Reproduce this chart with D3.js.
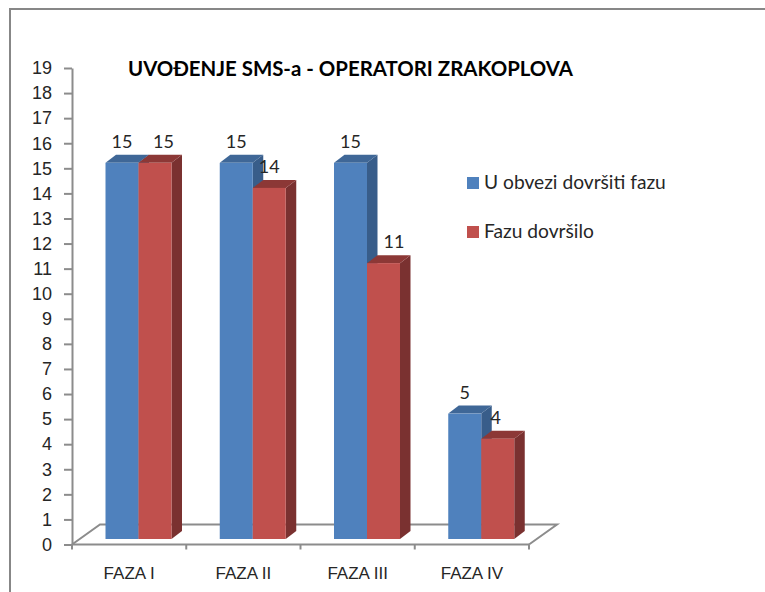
<!DOCTYPE html>
<html>
<head>
<meta charset="utf-8">
<script src="https://cdn.jsdelivr.net/npm/d3@7"></script>
<style>
html, body { margin: 0; padding: 0; background: #fff; }
svg { display: block; font-family: Lato, "Open Sans", sans-serif; }
.tick text { fill: #262626; }
</style>
</head>
<body>
<div id="chart"></div>
<script>
// Values.
const categories = ["FAZA I", "FAZA II", "FAZA III", "FAZA IV"];
const seriesNames = ["U obvezi dovršiti fazu", "Fazu dovršilo"];
const required = [15, 15, 15, 5];
const completed = [15, 14, 11, 4];
const yTicks = d3.range(0, 20);

const width = 765;
const height = 592;
const axisColor = "#8c8c8c";
const colors = [
    { front: "#4F81BD", side: "#385D8A", top: "#3F6797" },
    { front: "#C0504D", side: "#7A3130", top: "#8C3836" }
];

// 3D look: the bars sit a bit in front of the axis plane.
const depthX = 10.5;
const depthY = 8;
const floorX = 28;
const floorY = 20;
const barLift = 5.5;
const barShift = 9.5;

const svg = d3.select("#chart").append("svg")
    .attr("width", width)
    .attr("height", height);

// outer frame, cropped at the right and bottom
svg.append("path")
    .attr("d", d3.line()([[10, height], [10, 9], [width, 9]]))
    .attr("fill", "none")
    .attr("stroke", "#878787")
    .attr("stroke-width", 2);

const y = d3.scaleLinear().domain([0, 19]).range([544.5, 68]);
const x = d3.scaleBand().domain(categories).range([72, 529]);
const inner = d3.scaleBand().domain(seriesNames).range([24 + barShift, 90 + barShift]);

const left = x.range()[0];
const right = x.range()[1];
const base = y(0);

// floor
svg.append("path")
    .attr("d", d3.line()([
        [left, base],
        [left + floorX, base - floorY],
        [right + floorX, base - floorY],
        [right, base]
    ]))
    .attr("fill", "none")
    .attr("stroke", axisColor)
    .attr("stroke-width", 2);

const yAxis = d3.axisLeft(y).tickValues(yTicks).tickSize(8).tickPadding(12).tickSizeOuter(0);
const gy = svg.append("g")
    .attr("transform", `translate(${left},0)`)
    .call(yAxis);
gy.selectAll("text").attr("font-size", 18);

const xAxis = d3.axisBottom(x).tickSize(0).tickPadding(0);
const gx = svg.append("g")
    .attr("transform", `translate(0,${base})`)
    .call(xAxis);
gx.selectAll("text")
    .attr("font-size", 17)
    .attr("y", 34)
    .attr("dy", 0)
    .attr("fill", "#404040");

// category separators hang under the front edge
gx.selectAll(".sep")
    .data(d3.range(categories.length + 1))
    .join("line")
    .attr("class", "sep")
    .attr("x1", i => left + i * x.step())
    .attr("x2", i => left + i * x.step())
    .attr("y1", 0)
    .attr("y2", 5)
    .attr("stroke", axisColor)
    .attr("stroke-width", 2);

svg.selectAll(".domain, .tick line")
    .attr("stroke", axisColor)
    .attr("stroke-width", 2);
gx.select(".domain").attr("d", `M${left},0H${right}`);

const bars = svg.append("g");
categories.forEach((cat, i) => {
    [required[i], completed[i]].forEach((value, s) => {
        const x0 = x(cat) + inner(seriesNames[s]);
        const x1 = x0 + inner.bandwidth();
        const yTop = y(value) - barLift;
        const yBottom = base - barLift;
        const g = bars.append("g");

        g.append("path")
            .attr("d", d3.line()([[x1, yTop], [x1 + depthX, yTop - depthY], [x1 + depthX, yBottom - depthY], [x1, yBottom]]) + "Z")
            .attr("fill", colors[s].side);
        g.append("path")
            .attr("d", d3.line()([[x0, yTop], [x0 + depthX, yTop - depthY], [x1 + depthX, yTop - depthY], [x1, yTop]]) + "Z")
            .attr("fill", colors[s].top);
        g.append("rect")
            .attr("x", x0)
            .attr("y", yTop)
            .attr("width", x1 - x0)
            .attr("height", yBottom - yTop)
            .attr("fill", colors[s].front);
    });
});

// labels on the top, red ones were dragged by hand in the original
const labelNudge = [8.5, 0, 10.5, -2];
const labels = svg.append("g").attr("font-size", 18).attr("fill", "#262626").attr("text-anchor", "middle");
categories.forEach((cat, i) => {
    [required[i], completed[i]].forEach((value, s) => {
        labels.append("text")
            .attr("x", x(cat) + inner(seriesNames[s]) + inner.bandwidth() / 2 + (s === 1 ? labelNudge[i] : 0))
            .attr("y", y(value) - barLift - 15)
            .text(value);
    });
});

svg.append("text")
    .attr("x", 128)
    .attr("y", 76)
    .attr("font-size", 20.4)
    .attr("font-weight", 700)
    .attr("fill", "#000")
    .text("UVOĐENJE SMS-a - OPERATORI ZRAKOPLOVA");

const legend = svg.append("g")
    .selectAll("g")
    .data(seriesNames)
    .join("g")
    .attr("transform", (_, i) => `translate(467,${177 + i * 49})`);

legend.append("rect")
    .attr("width", 12)
    .attr("height", 12)
    .attr("fill", (_, i) => colors[i].front);

legend.append("text")
    .attr("x", 17)
    .attr("y", 12)
    .attr("font-size", 19.2)
    .attr("fill", "#262626")
    .text(d => d);
</script>
</body>
</html>
